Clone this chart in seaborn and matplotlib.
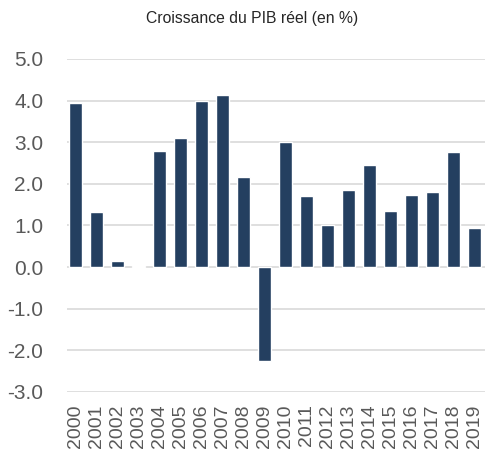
import matplotlib
matplotlib.use('Agg')
import matplotlib.pyplot as plt
import seaborn as sns
import pandas as pd

# Données : croissance du PIB réel (en %)
annees = [str(a) for a in range(2000, 2020)]
croissance = [3.94, 1.32, 0.15, 0.02, 2.79, 3.10, 4.00, 4.13, 2.16, -2.26,
              3.00, 1.70, 1.00, 1.85, 2.45, 1.35, 1.73, 1.80, 2.76, 0.93]
graduations = [5.0, 4.0, 3.0, 2.0, 1.0, 0.0, -1.0, -2.0, -3.0]

df = pd.DataFrame({"Annee": annees, "Croissance": croissance})

sns.set_style("white")
plt.rcParams['font.family'] = ['Liberation Sans', 'DejaVu Sans']

fig = plt.figure(figsize=(4.86, 4.5), dpi=100)
ax = fig.add_axes([0.138, 0.129, 0.860, 0.740])

sns.barplot(data=df, x="Annee", y="Croissance", color="#243f60",
            width=0.65, saturation=1, ax=ax, zorder=3)

ax.set_ylim(-3.0, 5.0)
ax.set_yticks(graduations)
ax.set_yticklabels([f"{v:.1f}" for v in graduations], fontsize=15, color="#595959")
ax.set_xlim(-0.4, len(annees) - 0.5)
ax.tick_params(axis='x', labelrotation=90, labelsize=14, colors="#595959", length=0, pad=9)
ax.tick_params(axis='y', length=0, pad=17)
ax.grid(axis='y', color="#d9d9d9", linewidth=1.2, zorder=0)
ax.set_xlabel("")
ax.set_ylabel("")
for s in ax.spines.values():
    s.set_visible(False)

fig.text(0.518, 0.958, "Croissance du PIB réel (en %)", ha='center', va='center',
         fontsize=11.3, color="#262626")

plt.savefig("out.png", dpi=100)
plt.close()
